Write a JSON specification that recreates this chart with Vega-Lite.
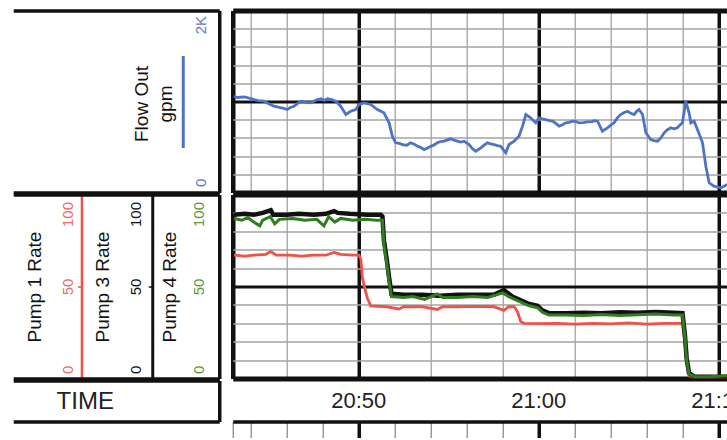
{
  "$schema": "https://vega.github.io/schema/vega-lite/v6.json",
  "padding": {"left": 10.75, "top": 8.5, "right": 0, "bottom": 0},
  "background": "white",
  "spacing": -16,
  "config": {
    "view": {"stroke": null},
    "font": "Liberation Sans",
    "axis": {"labelFont": "Liberation Sans", "titleFont": "Liberation Sans", "titleFontWeight": "normal"}
  },
  "datasets": {
    "flow": [
      {"t": "2020-01-01T20:43:04", "flow": 1058, "series": "Flow Out"},
      {"t": "2020-01-01T20:43:16", "flow": 1044, "series": "Flow Out"},
      {"t": "2020-01-01T20:43:40", "flow": 1050, "series": "Flow Out"},
      {"t": "2020-01-01T20:44:11", "flow": 1022, "series": "Flow Out"},
      {"t": "2020-01-01T20:44:25", "flow": 1010, "series": "Flow Out"},
      {"t": "2020-01-01T20:44:44", "flow": 1003, "series": "Flow Out"},
      {"t": "2020-01-01T20:45:00", "flow": 975, "series": "Flow Out"},
      {"t": "2020-01-01T20:45:18", "flow": 948, "series": "Flow Out"},
      {"t": "2020-01-01T20:45:35", "flow": 935, "series": "Flow Out"},
      {"t": "2020-01-01T20:45:50", "flow": 925, "series": "Flow Out"},
      {"t": "2020-01-01T20:46:02", "flow": 912, "series": "Flow Out"},
      {"t": "2020-01-01T20:46:12", "flow": 935, "series": "Flow Out"},
      {"t": "2020-01-01T20:46:24", "flow": 948, "series": "Flow Out"},
      {"t": "2020-01-01T20:46:47", "flow": 1003, "series": "Flow Out"},
      {"t": "2020-01-01T20:47:05", "flow": 990, "series": "Flow Out"},
      {"t": "2020-01-01T20:47:20", "flow": 985, "series": "Flow Out"},
      {"t": "2020-01-01T20:47:42", "flow": 1022, "series": "Flow Out"},
      {"t": "2020-01-01T20:47:55", "flow": 1030, "series": "Flow Out"},
      {"t": "2020-01-01T20:48:05", "flow": 1012, "series": "Flow Out"},
      {"t": "2020-01-01T20:48:16", "flow": 1030, "series": "Flow Out"},
      {"t": "2020-01-01T20:48:30", "flow": 1020, "series": "Flow Out"},
      {"t": "2020-01-01T20:48:43", "flow": 1003, "series": "Flow Out"},
      {"t": "2020-01-01T20:49:00", "flow": 948, "series": "Flow Out"},
      {"t": "2020-01-01T20:49:17", "flow": 857, "series": "Flow Out"},
      {"t": "2020-01-01T20:49:33", "flow": 893, "series": "Flow Out"},
      {"t": "2020-01-01T20:49:50", "flow": 912, "series": "Flow Out"},
      {"t": "2020-01-01T20:50:01", "flow": 967, "series": "Flow Out"},
      {"t": "2020-01-01T20:50:18", "flow": 985, "series": "Flow Out"},
      {"t": "2020-01-01T20:50:40", "flow": 967, "series": "Flow Out"},
      {"t": "2020-01-01T20:51:02", "flow": 912, "series": "Flow Out"},
      {"t": "2020-01-01T20:51:24", "flow": 876, "series": "Flow Out"},
      {"t": "2020-01-01T20:51:41", "flow": 766, "series": "Flow Out"},
      {"t": "2020-01-01T20:51:52", "flow": 619, "series": "Flow Out"},
      {"t": "2020-01-01T20:52:03", "flow": 546, "series": "Flow Out"},
      {"t": "2020-01-01T20:52:15", "flow": 540, "series": "Flow Out"},
      {"t": "2020-01-01T20:52:26", "flow": 527, "series": "Flow Out"},
      {"t": "2020-01-01T20:52:40", "flow": 520, "series": "Flow Out"},
      {"t": "2020-01-01T20:52:53", "flow": 546, "series": "Flow Out"},
      {"t": "2020-01-01T20:53:05", "flow": 530, "series": "Flow Out"},
      {"t": "2020-01-01T20:53:16", "flow": 509, "series": "Flow Out"},
      {"t": "2020-01-01T20:53:27", "flow": 495, "series": "Flow Out"},
      {"t": "2020-01-01T20:53:38", "flow": 472, "series": "Flow Out"},
      {"t": "2020-01-01T20:53:50", "flow": 490, "series": "Flow Out"},
      {"t": "2020-01-01T20:54:00", "flow": 509, "series": "Flow Out"},
      {"t": "2020-01-01T20:54:10", "flow": 520, "series": "Flow Out"},
      {"t": "2020-01-01T20:54:22", "flow": 546, "series": "Flow Out"},
      {"t": "2020-01-01T20:54:33", "flow": 560, "series": "Flow Out"},
      {"t": "2020-01-01T20:54:44", "flow": 564, "series": "Flow Out"},
      {"t": "2020-01-01T20:55:07", "flow": 590, "series": "Flow Out"},
      {"t": "2020-01-01T20:55:18", "flow": 575, "series": "Flow Out"},
      {"t": "2020-01-01T20:55:29", "flow": 564, "series": "Flow Out"},
      {"t": "2020-01-01T20:55:40", "flow": 555, "series": "Flow Out"},
      {"t": "2020-01-01T20:55:51", "flow": 564, "series": "Flow Out"},
      {"t": "2020-01-01T20:56:08", "flow": 527, "series": "Flow Out"},
      {"t": "2020-01-01T20:56:19", "flow": 480, "series": "Flow Out"},
      {"t": "2020-01-01T20:56:30", "flow": 454, "series": "Flow Out"},
      {"t": "2020-01-01T20:56:47", "flow": 491, "series": "Flow Out"},
      {"t": "2020-01-01T20:56:58", "flow": 520, "series": "Flow Out"},
      {"t": "2020-01-01T20:57:09", "flow": 546, "series": "Flow Out"},
      {"t": "2020-01-01T20:57:20", "flow": 535, "series": "Flow Out"},
      {"t": "2020-01-01T20:57:31", "flow": 527, "series": "Flow Out"},
      {"t": "2020-01-01T20:57:42", "flow": 515, "series": "Flow Out"},
      {"t": "2020-01-01T20:57:53", "flow": 509, "series": "Flow Out"},
      {"t": "2020-01-01T20:58:10", "flow": 436, "series": "Flow Out"},
      {"t": "2020-01-01T20:58:21", "flow": 527, "series": "Flow Out"},
      {"t": "2020-01-01T20:58:38", "flow": 564, "series": "Flow Out"},
      {"t": "2020-01-01T20:58:54", "flow": 619, "series": "Flow Out"},
      {"t": "2020-01-01T20:59:06", "flow": 729, "series": "Flow Out"},
      {"t": "2020-01-01T20:59:17", "flow": 857, "series": "Flow Out"},
      {"t": "2020-01-01T20:59:33", "flow": 821, "series": "Flow Out"},
      {"t": "2020-01-01T20:59:42", "flow": 790, "series": "Flow Out"},
      {"t": "2020-01-01T20:59:50", "flow": 766, "series": "Flow Out"},
      {"t": "2020-01-01T21:00:01", "flow": 821, "series": "Flow Out"},
      {"t": "2020-01-01T21:00:12", "flow": 810, "series": "Flow Out"},
      {"t": "2020-01-01T21:00:23", "flow": 802, "series": "Flow Out"},
      {"t": "2020-01-01T21:00:35", "flow": 790, "series": "Flow Out"},
      {"t": "2020-01-01T21:00:46", "flow": 784, "series": "Flow Out"},
      {"t": "2020-01-01T21:00:57", "flow": 760, "series": "Flow Out"},
      {"t": "2020-01-01T21:01:08", "flow": 729, "series": "Flow Out"},
      {"t": "2020-01-01T21:01:19", "flow": 745, "series": "Flow Out"},
      {"t": "2020-01-01T21:01:30", "flow": 766, "series": "Flow Out"},
      {"t": "2020-01-01T21:01:41", "flow": 770, "series": "Flow Out"},
      {"t": "2020-01-01T21:01:52", "flow": 784, "series": "Flow Out"},
      {"t": "2020-01-01T21:02:03", "flow": 780, "series": "Flow Out"},
      {"t": "2020-01-01T21:02:14", "flow": 766, "series": "Flow Out"},
      {"t": "2020-01-01T21:02:28", "flow": 768, "series": "Flow Out"},
      {"t": "2020-01-01T21:02:42", "flow": 775, "series": "Flow Out"},
      {"t": "2020-01-01T21:02:58", "flow": 780, "series": "Flow Out"},
      {"t": "2020-01-01T21:03:05", "flow": 790, "series": "Flow Out"},
      {"t": "2020-01-01T21:03:16", "flow": 784, "series": "Flow Out"},
      {"t": "2020-01-01T21:03:32", "flow": 674, "series": "Flow Out"},
      {"t": "2020-01-01T21:03:49", "flow": 711, "series": "Flow Out"},
      {"t": "2020-01-01T21:04:00", "flow": 740, "series": "Flow Out"},
      {"t": "2020-01-01T21:04:11", "flow": 766, "series": "Flow Out"},
      {"t": "2020-01-01T21:04:22", "flow": 820, "series": "Flow Out"},
      {"t": "2020-01-01T21:04:33", "flow": 857, "series": "Flow Out"},
      {"t": "2020-01-01T21:04:45", "flow": 880, "series": "Flow Out"},
      {"t": "2020-01-01T21:04:56", "flow": 893, "series": "Flow Out"},
      {"t": "2020-01-01T21:05:07", "flow": 870, "series": "Flow Out"},
      {"t": "2020-01-01T21:05:18", "flow": 857, "series": "Flow Out"},
      {"t": "2020-01-01T21:05:26", "flow": 890, "series": "Flow Out"},
      {"t": "2020-01-01T21:05:34", "flow": 912, "series": "Flow Out"},
      {"t": "2020-01-01T21:05:46", "flow": 857, "series": "Flow Out"},
      {"t": "2020-01-01T21:05:57", "flow": 656, "series": "Flow Out"},
      {"t": "2020-01-01T21:06:13", "flow": 582, "series": "Flow Out"},
      {"t": "2020-01-01T21:06:24", "flow": 570, "series": "Flow Out"},
      {"t": "2020-01-01T21:06:36", "flow": 564, "series": "Flow Out"},
      {"t": "2020-01-01T21:06:47", "flow": 600, "series": "Flow Out"},
      {"t": "2020-01-01T21:06:58", "flow": 656, "series": "Flow Out"},
      {"t": "2020-01-01T21:07:09", "flow": 690, "series": "Flow Out"},
      {"t": "2020-01-01T21:07:20", "flow": 711, "series": "Flow Out"},
      {"t": "2020-01-01T21:07:31", "flow": 700, "series": "Flow Out"},
      {"t": "2020-01-01T21:07:42", "flow": 711, "series": "Flow Out"},
      {"t": "2020-01-01T21:07:50", "flow": 740, "series": "Flow Out"},
      {"t": "2020-01-01T21:07:59", "flow": 766, "series": "Flow Out"},
      {"t": "2020-01-01T21:08:10", "flow": 1003, "series": "Flow Out"},
      {"t": "2020-01-01T21:08:21", "flow": 876, "series": "Flow Out"},
      {"t": "2020-01-01T21:08:27", "flow": 766, "series": "Flow Out"},
      {"t": "2020-01-01T21:08:38", "flow": 784, "series": "Flow Out"},
      {"t": "2020-01-01T21:08:49", "flow": 692, "series": "Flow Out"},
      {"t": "2020-01-01T21:09:06", "flow": 546, "series": "Flow Out"},
      {"t": "2020-01-01T21:09:17", "flow": 289, "series": "Flow Out"},
      {"t": "2020-01-01T21:09:28", "flow": 107, "series": "Flow Out"},
      {"t": "2020-01-01T21:09:44", "flow": 69, "series": "Flow Out"},
      {"t": "2020-01-01T21:10:07", "flow": 51, "series": "Flow Out"},
      {"t": "2020-01-01T21:10:29", "flow": 88, "series": "Flow Out"}
    ],
    "pump1": [
      {"t": "2020-01-01T20:43:04", "rate": 67}, {"t": "2020-01-01T20:43:40", "rate": 66.5},
      {"t": "2020-01-01T20:44:10", "rate": 67}, {"t": "2020-01-01T20:44:50", "rate": 67.5},
      {"t": "2020-01-01T20:45:07", "rate": 69}, {"t": "2020-01-01T20:45:25", "rate": 67},
      {"t": "2020-01-01T20:46:10", "rate": 67}, {"t": "2020-01-01T20:46:50", "rate": 66.5},
      {"t": "2020-01-01T20:47:30", "rate": 67}, {"t": "2020-01-01T20:48:10", "rate": 67},
      {"t": "2020-01-01T20:48:38", "rate": 68.5}, {"t": "2020-01-01T20:49:00", "rate": 67.5},
      {"t": "2020-01-01T20:49:40", "rate": 67}, {"t": "2020-01-01T20:50:01", "rate": 67},
      {"t": "2020-01-01T20:50:07", "rate": 65}, {"t": "2020-01-01T20:50:12", "rate": 55},
      {"t": "2020-01-01T20:50:20", "rate": 49}, {"t": "2020-01-01T20:50:29", "rate": 43.5},
      {"t": "2020-01-01T20:50:40", "rate": 39.5}, {"t": "2020-01-01T20:51:30", "rate": 39},
      {"t": "2020-01-01T20:52:14", "rate": 37.8}, {"t": "2020-01-01T20:52:30", "rate": 39},
      {"t": "2020-01-01T20:53:30", "rate": 39}, {"t": "2020-01-01T20:54:22", "rate": 37.5},
      {"t": "2020-01-01T20:54:40", "rate": 39}, {"t": "2020-01-01T20:55:30", "rate": 39},
      {"t": "2020-01-01T20:56:30", "rate": 39.2}, {"t": "2020-01-01T20:57:30", "rate": 39},
      {"t": "2020-01-01T20:58:04", "rate": 37}, {"t": "2020-01-01T20:58:20", "rate": 39},
      {"t": "2020-01-01T20:58:38", "rate": 39}, {"t": "2020-01-01T20:58:49", "rate": 36.4},
      {"t": "2020-01-01T20:59:00", "rate": 31}, {"t": "2020-01-01T20:59:11", "rate": 30},
      {"t": "2020-01-01T21:00:00", "rate": 29.8}, {"t": "2020-01-01T21:01:00", "rate": 30},
      {"t": "2020-01-01T21:02:00", "rate": 29.5}, {"t": "2020-01-01T21:03:00", "rate": 30},
      {"t": "2020-01-01T21:04:00", "rate": 29.7}, {"t": "2020-01-01T21:05:00", "rate": 30.2},
      {"t": "2020-01-01T21:06:00", "rate": 29.6}, {"t": "2020-01-01T21:07:00", "rate": 30},
      {"t": "2020-01-01T21:07:59", "rate": 30}, {"t": "2020-01-01T21:08:07", "rate": 20},
      {"t": "2020-01-01T21:08:13", "rate": 8}, {"t": "2020-01-01T21:08:21", "rate": 1.5},
      {"t": "2020-01-01T21:08:38", "rate": 0.5}, {"t": "2020-01-01T21:10:29", "rate": 0.5}
    ],
    "pump3": [
      {"t": "2020-01-01T20:43:04", "rate": 89}, {"t": "2020-01-01T20:43:40", "rate": 89.5},
      {"t": "2020-01-01T20:44:10", "rate": 89}, {"t": "2020-01-01T20:44:40", "rate": 90},
      {"t": "2020-01-01T20:45:07", "rate": 91.5}, {"t": "2020-01-01T20:45:15", "rate": 89},
      {"t": "2020-01-01T20:46:00", "rate": 89}, {"t": "2020-01-01T20:46:40", "rate": 89.5},
      {"t": "2020-01-01T20:47:30", "rate": 89}, {"t": "2020-01-01T20:48:10", "rate": 89.5},
      {"t": "2020-01-01T20:48:38", "rate": 91}, {"t": "2020-01-01T20:48:50", "rate": 90},
      {"t": "2020-01-01T20:49:30", "rate": 89.5}, {"t": "2020-01-01T20:50:30", "rate": 89},
      {"t": "2020-01-01T20:51:13", "rate": 89}, {"t": "2020-01-01T20:51:19", "rate": 88},
      {"t": "2020-01-01T20:51:24", "rate": 75}, {"t": "2020-01-01T20:51:33", "rate": 65},
      {"t": "2020-01-01T20:51:41", "rate": 55}, {"t": "2020-01-01T20:51:49", "rate": 46},
      {"t": "2020-01-01T20:52:30", "rate": 45.5}, {"t": "2020-01-01T20:53:30", "rate": 45.5},
      {"t": "2020-01-01T20:54:30", "rate": 45}, {"t": "2020-01-01T20:55:30", "rate": 45.5},
      {"t": "2020-01-01T20:56:30", "rate": 45.5}, {"t": "2020-01-01T20:57:30", "rate": 45.5},
      {"t": "2020-01-01T20:58:04", "rate": 48}, {"t": "2020-01-01T20:58:20", "rate": 46},
      {"t": "2020-01-01T20:58:32", "rate": 44.5}, {"t": "2020-01-01T20:59:00", "rate": 42.5},
      {"t": "2020-01-01T20:59:28", "rate": 40.5}, {"t": "2020-01-01T20:59:56", "rate": 39.5},
      {"t": "2020-01-01T21:00:12", "rate": 37}, {"t": "2020-01-01T21:00:34", "rate": 35.5},
      {"t": "2020-01-01T21:01:30", "rate": 35.5}, {"t": "2020-01-01T21:02:30", "rate": 35.8},
      {"t": "2020-01-01T21:03:30", "rate": 35.5}, {"t": "2020-01-01T21:04:30", "rate": 36},
      {"t": "2020-01-01T21:05:30", "rate": 35.8}, {"t": "2020-01-01T21:06:30", "rate": 36.2},
      {"t": "2020-01-01T21:07:30", "rate": 35.8}, {"t": "2020-01-01T21:07:59", "rate": 35.5},
      {"t": "2020-01-01T21:08:07", "rate": 24}, {"t": "2020-01-01T21:08:13", "rate": 11},
      {"t": "2020-01-01T21:08:21", "rate": 3}, {"t": "2020-01-01T21:08:38", "rate": 1},
      {"t": "2020-01-01T21:09:30", "rate": 1}, {"t": "2020-01-01T21:10:29", "rate": 1}
    ],
    "pump4": [
      {"t": "2020-01-01T20:43:04", "rate": 87}, {"t": "2020-01-01T20:43:30", "rate": 86},
      {"t": "2020-01-01T20:43:50", "rate": 87.5}, {"t": "2020-01-01T20:44:10", "rate": 85},
      {"t": "2020-01-01T20:44:30", "rate": 83}, {"t": "2020-01-01T20:44:40", "rate": 86},
      {"t": "2020-01-01T20:45:05", "rate": 88}, {"t": "2020-01-01T20:45:20", "rate": 84},
      {"t": "2020-01-01T20:45:35", "rate": 86.5}, {"t": "2020-01-01T20:46:20", "rate": 87},
      {"t": "2020-01-01T20:47:00", "rate": 86}, {"t": "2020-01-01T20:47:40", "rate": 86.5},
      {"t": "2020-01-01T20:48:04", "rate": 83}, {"t": "2020-01-01T20:48:20", "rate": 88},
      {"t": "2020-01-01T20:48:40", "rate": 85}, {"t": "2020-01-01T20:49:00", "rate": 87},
      {"t": "2020-01-01T20:49:40", "rate": 86}, {"t": "2020-01-01T20:50:20", "rate": 86.5},
      {"t": "2020-01-01T20:51:00", "rate": 86}, {"t": "2020-01-01T20:51:19", "rate": 86},
      {"t": "2020-01-01T20:51:24", "rate": 73}, {"t": "2020-01-01T20:51:33", "rate": 63},
      {"t": "2020-01-01T20:51:41", "rate": 53}, {"t": "2020-01-01T20:51:49", "rate": 44.5},
      {"t": "2020-01-01T20:52:30", "rate": 44}, {"t": "2020-01-01T20:53:00", "rate": 44.5},
      {"t": "2020-01-01T20:53:40", "rate": 43}, {"t": "2020-01-01T20:54:22", "rate": 46},
      {"t": "2020-01-01T20:54:40", "rate": 44}, {"t": "2020-01-01T20:55:30", "rate": 44},
      {"t": "2020-01-01T20:56:20", "rate": 44.5}, {"t": "2020-01-01T20:57:10", "rate": 44},
      {"t": "2020-01-01T20:58:00", "rate": 46.5}, {"t": "2020-01-01T20:58:20", "rate": 44.5},
      {"t": "2020-01-01T20:58:40", "rate": 43}, {"t": "2020-01-01T20:59:00", "rate": 41.5},
      {"t": "2020-01-01T20:59:28", "rate": 39.5}, {"t": "2020-01-01T20:59:56", "rate": 38.5},
      {"t": "2020-01-01T21:00:12", "rate": 36}, {"t": "2020-01-01T21:00:34", "rate": 34.5},
      {"t": "2020-01-01T21:01:30", "rate": 34.5}, {"t": "2020-01-01T21:02:30", "rate": 34.2},
      {"t": "2020-01-01T21:03:30", "rate": 34.8}, {"t": "2020-01-01T21:04:30", "rate": 34.3},
      {"t": "2020-01-01T21:05:30", "rate": 34.6}, {"t": "2020-01-01T21:06:30", "rate": 35},
      {"t": "2020-01-01T21:07:30", "rate": 34.5}, {"t": "2020-01-01T21:07:59", "rate": 34.5},
      {"t": "2020-01-01T21:08:07", "rate": 23}, {"t": "2020-01-01T21:08:13", "rate": 10},
      {"t": "2020-01-01T21:08:21", "rate": 2.5}, {"t": "2020-01-01T21:08:38", "rate": 1},
      {"t": "2020-01-01T21:09:30", "rate": 1}, {"t": "2020-01-01T21:10:29", "rate": 1.5}
    ],
    "times": [
      {"t": "2020-01-01T20:50:00", "label": "20:50", "row": "TIME"},
      {"t": "2020-01-01T21:00:00", "label": "21:00", "row": "TIME"},
      {"t": "2020-01-01T21:10:00", "label": "21:10", "row": "TIME"}
    ]
  },
  "vconcat": [
    {
      "spacing": -5,
      "vconcat": [
        {
          "width": 495,
          "height": 182,
          "data": {"name": "flow"},
          "mark": {"type": "line", "strokeWidth": 2.8, "clip": true},
          "encoding": {
            "x": {
              "field": "t", "type": "temporal",
              "scale": {"domain": [{"year": 2020, "month": 1, "date": 1, "hours": 20, "minutes": 43}, {"year": 2020, "month": 1, "date": 1, "hours": 21, "minutes": 10, "seconds": 30}], "nice": false},
              "axis": {
                "orient": "bottom", "title": null, "labels": false, "ticks": false, "domain": false, "grid": true,
                "values": [
                  {"year": 2020, "month": 1, "date": 1, "hours": 20, "minutes": 43},
                  {"year": 2020, "month": 1, "date": 1, "hours": 20, "minutes": 44},
                  {"year": 2020, "month": 1, "date": 1, "hours": 20, "minutes": 46},
                  {"year": 2020, "month": 1, "date": 1, "hours": 20, "minutes": 48},
                  {"year": 2020, "month": 1, "date": 1, "hours": 20, "minutes": 50},
                  {"year": 2020, "month": 1, "date": 1, "hours": 20, "minutes": 52},
                  {"year": 2020, "month": 1, "date": 1, "hours": 20, "minutes": 54},
                  {"year": 2020, "month": 1, "date": 1, "hours": 20, "minutes": 56},
                  {"year": 2020, "month": 1, "date": 1, "hours": 20, "minutes": 58},
                  {"year": 2020, "month": 1, "date": 1, "hours": 21, "minutes": 0},
                  {"year": 2020, "month": 1, "date": 1, "hours": 21, "minutes": 2},
                  {"year": 2020, "month": 1, "date": 1, "hours": 21, "minutes": 4},
                  {"year": 2020, "month": 1, "date": 1, "hours": 21, "minutes": 6},
                  {"year": 2020, "month": 1, "date": 1, "hours": 21, "minutes": 8},
                  {"year": 2020, "month": 1, "date": 1, "hours": 21, "minutes": 10}
                ],
                "gridColor": {"condition": {"test": "minutes(datum.value) % 10 === 0 || minutes(datum.value) === 43", "value": "#111111"}, "value": "#a3a3a3"},
                "gridWidth": {"condition": [{"test": "minutes(datum.value) === 43", "value": 4.5}, {"test": "minutes(datum.value) % 10 === 0", "value": 3.5}], "value": 1.3},
                "gridOpacity": 1
              }
            },
            "y": {
              "field": "flow", "type": "quantitative",
              "scale": {"domain": [0, 2000], "nice": false, "zero": false},
              "axis": {
                "orient": "left", "offset": 13.5,
                "values": [0, 200, 400, 600, 800, 1000, 1200, 1400, 1600, 1800, 2000],
                "grid": true,
                "gridColor": {"condition": {"test": "datum.value % 1000 === 0", "value": "#111111"}, "value": "#a3a3a3"},
                "gridWidth": {"condition": [{"test": "datum.value === 0 || datum.value === 2000", "value": 5}, {"test": "datum.value === 1000", "value": 3}], "value": 1.3},
                "gridOpacity": 1,
                "domain": true, "domainColor": "#111111", "domainWidth": 3.5,
                "ticks": true, "tickSize": 206, "tickWidth": 3.5, "tickColor": "#111111",
                "tickOpacity": {"condition": {"test": "datum.value === 0 || datum.value === 2000", "value": 1}, "value": 0},
                "labelExpr": "datum.value === 2000 ? '2K' : datum.value === 0 ? '0' : ''",
                "labelColor": "#5a78c8", "labelFontSize": 15, "labelAngle": 270, "labelBaseline": "alphabetic",
                "labelAlign": {"condition": {"test": "datum.value === 2000", "value": "right"}, "value": "left"},
                "labelOffset": {"condition": {"test": "datum.value === 2000", "value": 5}, "value": -6},
                "labelPadding": -192.5, "labelOverlap": false, "labelFlush": false,
                "title": ["Flow Out", "gpm"], "titleFontSize": 19, "titleLineHeight": 24, "titleColor": "#111111",
                "titleAngle": 270, "titleX": -78, "titleY": 93, "titleAlign": "center", "titleBaseline": "middle"
              }
            },
            "stroke": {
              "field": "series", "type": "nominal",
              "scale": {"range": ["#4d72c6"]},
              "legend": {
                "orient": "none", "legendX": -97, "legendY": 44, "title": null, "labelExpr": "''",
                "symbolType": "M0,-1L0,1", "symbolSize": 8464, "symbolStrokeWidth": 3, "padding": 0,
                "labelFontSize": 1, "labelOffset": 0
              }
            }
          }
        },
        {
          "width": 495,
          "height": 184,
          "resolve": {"axis": {"y": "independent"}},
          "layer": [
            {
              "data": {"name": "pump1"},
              "mark": {"type": "line", "color": "#ee5248", "strokeWidth": 2.8, "clip": true},
              "encoding": {
                "x": {
                  "field": "t", "type": "temporal",
                  "scale": {"domain": [{"year": 2020, "month": 1, "date": 1, "hours": 20, "minutes": 43}, {"year": 2020, "month": 1, "date": 1, "hours": 21, "minutes": 10, "seconds": 30}], "nice": false},
                  "axis": {
                    "orient": "bottom", "title": null, "labels": false, "ticks": false, "domain": false, "grid": true,
                    "values": [
                      {"year": 2020, "month": 1, "date": 1, "hours": 20, "minutes": 43},
                      {"year": 2020, "month": 1, "date": 1, "hours": 20, "minutes": 44},
                      {"year": 2020, "month": 1, "date": 1, "hours": 20, "minutes": 46},
                      {"year": 2020, "month": 1, "date": 1, "hours": 20, "minutes": 48},
                      {"year": 2020, "month": 1, "date": 1, "hours": 20, "minutes": 50},
                      {"year": 2020, "month": 1, "date": 1, "hours": 20, "minutes": 52},
                      {"year": 2020, "month": 1, "date": 1, "hours": 20, "minutes": 54},
                      {"year": 2020, "month": 1, "date": 1, "hours": 20, "minutes": 56},
                      {"year": 2020, "month": 1, "date": 1, "hours": 20, "minutes": 58},
                      {"year": 2020, "month": 1, "date": 1, "hours": 21, "minutes": 0},
                      {"year": 2020, "month": 1, "date": 1, "hours": 21, "minutes": 2},
                      {"year": 2020, "month": 1, "date": 1, "hours": 21, "minutes": 4},
                      {"year": 2020, "month": 1, "date": 1, "hours": 21, "minutes": 6},
                      {"year": 2020, "month": 1, "date": 1, "hours": 21, "minutes": 8},
                      {"year": 2020, "month": 1, "date": 1, "hours": 21, "minutes": 10}
                    ],
                    "gridColor": {"condition": {"test": "minutes(datum.value) % 10 === 0 || minutes(datum.value) === 43", "value": "#111111"}, "value": "#a3a3a3"},
                    "gridWidth": {"condition": [{"test": "minutes(datum.value) === 43", "value": 4.5}, {"test": "minutes(datum.value) % 10 === 0", "value": 3.5}], "value": 1.3},
                    "gridOpacity": 1
                  }
                },
                "y": {
                  "field": "rate", "type": "quantitative",
                  "scale": {"domain": [0, 100], "nice": false, "zero": false},
                  "axis": {
                    "orient": "left", "offset": 151.3, "values": [0, 50, 100], "grid": false,
                    "domainColor": "#ee5248", "domainWidth": 2.5,
                    "tickColor": "#ee5248", "tickSize": 4, "tickWidth": 1.5,
                    "labelColor": "#ec6a62", "labelFontSize": 15, "labelAngle": 270, "labelBaseline": "alphabetic",
                    "labelPadding": 5.2, "labelOverlap": false, "labelFlush": false,
                    "labelAlign": {"condition": [{"test": "datum.value === 100", "value": "right"}, {"test": "datum.value === 0", "value": "left"}], "value": "center"},
                    "labelOffset": {"condition": [{"test": "datum.value === 100", "value": 7}, {"test": "datum.value === 0", "value": -5}], "value": 0},
                    "title": "Pump 1 Rate", "titleFontSize": 19, "titleColor": "#111111", "titleAngle": 270,
                    "titleX": -47, "titleY": 92, "titleAlign": "center", "titleBaseline": "middle"
                  }
                }
              }
            },
            {
              "data": {"name": "pump3"},
              "mark": {"type": "line", "color": "#111111", "strokeWidth": 4.5, "clip": true},
              "encoding": {
                "x": {
                  "field": "t", "type": "temporal",
                  "scale": {"domain": [{"year": 2020, "month": 1, "date": 1, "hours": 20, "minutes": 43}, {"year": 2020, "month": 1, "date": 1, "hours": 21, "minutes": 10, "seconds": 30}], "nice": false}
                },
                "y": {
                  "field": "rate", "type": "quantitative",
                  "scale": {"domain": [0, 100], "nice": false, "zero": false},
                  "axis": {
                    "orient": "left", "offset": 80.5, "values": [0, 50, 100], "grid": false,
                    "domainColor": "#111111", "domainWidth": 3,
                    "tickColor": "#111111", "tickSize": 4, "tickWidth": 1.5,
                    "labelColor": "#111111", "labelFontSize": 15, "labelAngle": 270, "labelBaseline": "alphabetic",
                    "labelPadding": 7.5, "labelOverlap": false, "labelFlush": false,
                    "labelAlign": {"condition": [{"test": "datum.value === 100", "value": "right"}, {"test": "datum.value === 0", "value": "left"}], "value": "center"},
                    "labelOffset": {"condition": [{"test": "datum.value === 100", "value": 7}, {"test": "datum.value === 0", "value": -5}], "value": 0},
                    "title": "Pump 3 Rate", "titleFontSize": 19, "titleColor": "#111111", "titleAngle": 270,
                    "titleX": -49.5, "titleY": 92, "titleAlign": "center", "titleBaseline": "middle"
                  }
                }
              }
            },
            {
              "data": {"name": "pump4"},
              "mark": {"type": "line", "color": "#2f7d1f", "strokeWidth": 3, "clip": true},
              "encoding": {
                "x": {
                  "field": "t", "type": "temporal",
                  "scale": {"domain": [{"year": 2020, "month": 1, "date": 1, "hours": 20, "minutes": 43}, {"year": 2020, "month": 1, "date": 1, "hours": 21, "minutes": 10, "seconds": 30}], "nice": false}
                },
                "y": {
                  "field": "rate", "type": "quantitative",
                  "scale": {"domain": [0, 100], "nice": false, "zero": false},
                  "axis": {
                    "orient": "left", "offset": 13.5,
                    "values": [0, 10, 20, 30, 40, 50, 60, 70, 80, 90, 100],
                    "grid": true,
                    "gridColor": {"condition": {"test": "datum.value % 50 === 0", "value": "#111111"}, "value": "#a3a3a3"},
                    "gridWidth": {"condition": [{"test": "datum.value === 0 || datum.value === 100", "value": 5}, {"test": "datum.value === 50", "value": 3}], "value": 1.3},
                    "gridOpacity": 1,
                    "domain": true, "domainColor": "#111111", "domainWidth": 3.5,
                    "ticks": true, "tickSize": 206, "tickWidth": 3.5, "tickColor": "#111111",
                    "tickOpacity": {"condition": {"test": "datum.value === 0 || datum.value === 100", "value": 1}, "value": 0},
                    "labelExpr": "datum.value % 50 === 0 ? datum.label : ''",
                    "labelColor": "#5a9a3a", "labelFontSize": 15, "labelAngle": 270, "labelBaseline": "alphabetic",
                    "labelPadding": -190.5, "labelOverlap": false, "labelFlush": false,
                    "labelAlign": {"condition": [{"test": "datum.value === 100", "value": "right"}, {"test": "datum.value === 0", "value": "left"}], "value": "center"},
                    "labelOffset": {"condition": [{"test": "datum.value === 100", "value": 7}, {"test": "datum.value === 0", "value": -5}], "value": 0},
                    "title": "Pump 4 Rate", "titleFontSize": 19, "titleColor": "#111111", "titleAngle": 270,
                    "titleX": -50, "titleY": 92, "titleAlign": "center", "titleBaseline": "middle"
                  }
                }
              }
            }
          ]
        }
      ]
    },
    {
      "width": 495,
      "height": 41,
      "data": {"name": "times"},
      "mark": {"type": "text", "fontSize": 22, "color": "#222222", "clip": true, "baseline": "middle", "align": "center", "font": "Liberation Sans"},
      "encoding": {
        "x": {
          "field": "t", "type": "temporal",
          "scale": {"domain": [{"year": 2020, "month": 1, "date": 1, "hours": 20, "minutes": 43}, {"year": 2020, "month": 1, "date": 1, "hours": 21, "minutes": 10, "seconds": 30}], "nice": false},
          "axis": {
            "orient": "bottom", "title": null, "labels": false, "grid": false,
            "domain": true, "domainColor": "#111111", "domainWidth": 3.5,
            "ticks": true, "tickSize": 16,
            "values": [
              {"year": 2020, "month": 1, "date": 1, "hours": 20, "minutes": 43},
              {"year": 2020, "month": 1, "date": 1, "hours": 20, "minutes": 44},
              {"year": 2020, "month": 1, "date": 1, "hours": 20, "minutes": 46},
              {"year": 2020, "month": 1, "date": 1, "hours": 20, "minutes": 48},
              {"year": 2020, "month": 1, "date": 1, "hours": 20, "minutes": 50},
              {"year": 2020, "month": 1, "date": 1, "hours": 20, "minutes": 52},
              {"year": 2020, "month": 1, "date": 1, "hours": 20, "minutes": 54},
              {"year": 2020, "month": 1, "date": 1, "hours": 20, "minutes": 56},
              {"year": 2020, "month": 1, "date": 1, "hours": 20, "minutes": 58},
              {"year": 2020, "month": 1, "date": 1, "hours": 21, "minutes": 0},
              {"year": 2020, "month": 1, "date": 1, "hours": 21, "minutes": 2},
              {"year": 2020, "month": 1, "date": 1, "hours": 21, "minutes": 4},
              {"year": 2020, "month": 1, "date": 1, "hours": 21, "minutes": 6},
              {"year": 2020, "month": 1, "date": 1, "hours": 21, "minutes": 8},
              {"year": 2020, "month": 1, "date": 1, "hours": 21, "minutes": 10}
            ],
            "tickColor": {"condition": {"test": "minutes(datum.value) % 10 === 0", "value": "#111111"}, "value": "#8a8a8a"},
            "tickWidth": {"condition": {"test": "minutes(datum.value) % 10 === 0", "value": 3.5}, "value": 1.3}
          }
        },
        "y": {
          "field": "row", "type": "nominal",
          "scale": {"type": "band", "paddingInner": 0, "paddingOuter": 0},
          "axis": {
            "orient": "left", "offset": 13.5, "tickBand": "extent",
            "tickSize": 206, "tickWidth": 3.5, "tickColor": "#111111",
            "domainColor": "#111111", "domainWidth": 3.5,
            "labelFontSize": 24, "labelColor": "#222222", "labelPadding": -71.5,
            "labelAlign": "center", "labelBaseline": "middle", "labelAngle": 0,
            "title": null, "grid": false
          }
        },
        "text": {"field": "label"}
      }
    }
  ]
}
